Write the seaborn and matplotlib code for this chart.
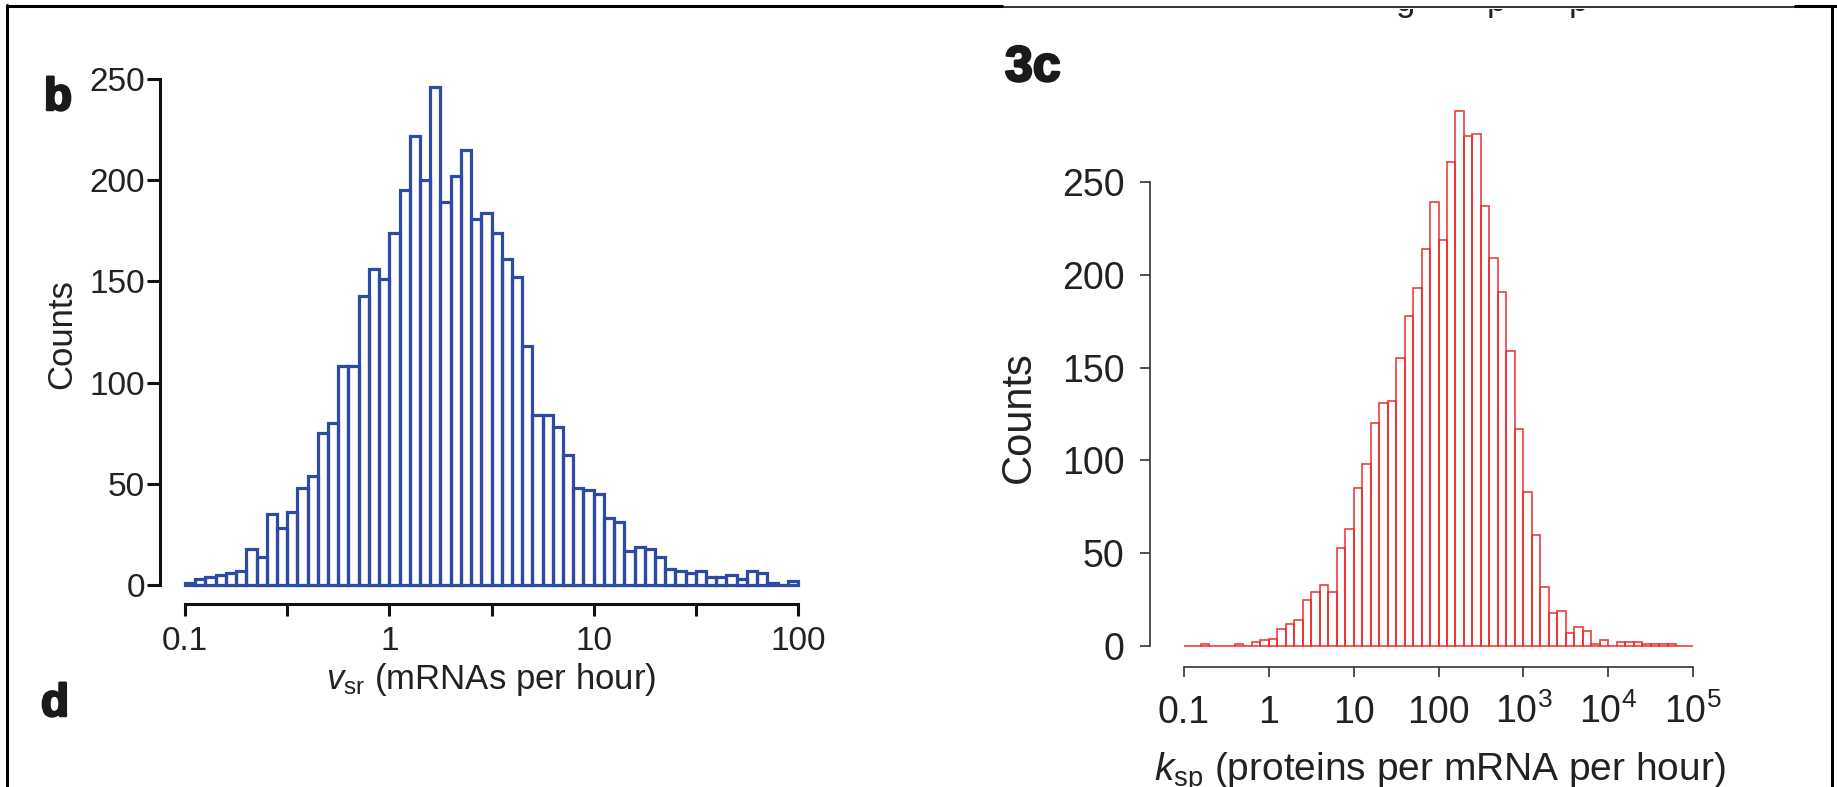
import numpy as np
import pandas as pd
import matplotlib
matplotlib.use('Agg')
import matplotlib.pyplot as plt
import seaborn as sns
from matplotlib.lines import Line2D
from matplotlib.ticker import NullLocator
from matplotlib.transforms import Bbox, TransformedBbox
import matplotlib.patheffects as pe

W, H = 1837, 787

# panel b: v_sr, 60 log bins between 0.1 and 100 (20 per decade)
vsr_counts = [1, 3, 4, 5, 6, 7, 18, 14, 35, 28, 36, 48, 54, 75, 80, 108, 108, 143, 156, 151,
              174, 195, 222, 200, 246, 189, 202, 215, 181, 184, 174, 161, 152, 118, 84, 84, 78, 64, 48, 47,
              45, 33, 31, 17, 19, 18, 14, 8, 7, 6, 7, 4, 4, 5, 3, 7, 6, 1, 0, 2]
vsr_logrange = (-1, 2)
vsr_ticklabels = ['0.1', '', '1', '', '10', '', '100']

# panel 3c: k_sp, 60 log bins between 0.1 and 1e5 (10 per decade)
ksp_counts = [0, 0, 1, 0, 0, 0, 1, 0, 2, 3, 4, 9, 12, 14, 25, 29, 33, 29, 53, 63,
              85, 98, 120, 131, 132, 155, 178, 193, 214, 239, 219, 261, 288, 275, 276, 237, 209, 191, 159, 117,
              83, 60, 32, 18, 19, 7, 10, 8, 1, 3, 0, 2, 2, 2, 1, 1, 1, 1, 0, 0]
ksp_logrange = (-1, 5)
ksp_ticklabels = ['0.1', '1', '10', '100', '$10^3$', '$10^4$', '$10^5$']

count_ticks = [0, 50, 100, 150, 200, 250]


def bin_centers(counts, logrange):
    edges = np.logspace(logrange[0], logrange[1], len(counts) + 1)
    return np.sqrt(edges[:-1] * edges[1:])


df_vsr = pd.DataFrame({'v': bin_centers(vsr_counts, vsr_logrange), 'n': vsr_counts})
df_ksp = pd.DataFrame({'k': bin_centers(ksp_counts, ksp_logrange), 'n': ksp_counts})

sns.set_style('ticks')
plt.rcParams['font.family'] = ['Liberation Sans', 'DejaVu Sans']
plt.rcParams['mathtext.fontset'] = 'custom'
plt.rcParams['mathtext.rm'] = 'Liberation Sans'
plt.rcParams['mathtext.it'] = 'Liberation Sans:italic'
plt.rcParams['mathtext.bf'] = 'Liberation Sans:bold'

fig = plt.figure(figsize=(W / 100, H / 100), dpi=100)
fig.patch.set_facecolor('white')

# ---- left panel (b) ----
ax1 = fig.add_axes([185 / W, 1 - 585 / H, 613 / W, 506 / H])
sns.histplot(data=df_vsr, x='v', weights='n', bins=len(vsr_counts), binrange=vsr_logrange,
             log_scale=True, fill=False, element='bars', color='#2d4ba5', linewidth=2.3, ax=ax1)
for p in ax1.patches:
    p.set_clip_on(False)
ax1.set_xlim(10 ** vsr_logrange[0], 10 ** vsr_logrange[1])
ax1.set_ylim(0, 250)
ax1.set_xticks(10 ** np.arange(vsr_logrange[0], vsr_logrange[1] + 0.01, 0.5))
ax1.set_xticklabels(vsr_ticklabels)
ax1.xaxis.set_minor_locator(NullLocator())
ax1.set_yticks(count_ticks)
ax1.set_yticklabels([str(t) for t in count_ticks])
for s in ['top', 'right']:
    ax1.spines[s].set_visible(False)
ax1.spines['left'].set_position(('outward', 18))
ax1.spines['bottom'].set_position(('outward', 14))
for s in ['left', 'bottom']:
    ax1.spines[s].set_linewidth(2.2)
    ax1.spines[s].set_color('#111111')
ax1.tick_params(axis='x', length=8.6, width=2.2, color='#111111', pad=24.5,
                labelsize=24, labelcolor='#222222')
ax1.tick_params(axis='y', length=9.4, width=2.2, color='#111111', pad=1.5,
                labelsize=24, labelcolor='#222222')
for lab in ax1.get_xticklabels():
    lab.set_va('baseline')
ax1.set_ylabel('')
ax1.set_xlabel(r'$v_{\mathrm{sr}}$ (mRNAs per hour)', fontsize=25, color='#222222', va='baseline')
ax1.xaxis.set_label_coords(0.5, (585 - 689) / 506)
fig.text(62 / W, 1 - 334 / H, 'Counts', rotation=90, ha='center', va='center',
         fontsize=25, color='#222222')

# ---- right panel (3c) ----
ax2 = fig.add_axes([1184 / W, 1 - 646 / H, 509 / W, 556.8 / H])
sns.histplot(data=df_ksp, x='k', weights='n', bins=len(ksp_counts), binrange=ksp_logrange,
             log_scale=True, fill=False, element='bars', color='#f02828', linewidth=1.2,
             alpha=0.9, ax=ax2)
for p in ax2.patches:
    p.set_clip_on(False)
ax2.set_xlim(10 ** ksp_logrange[0], 10 ** ksp_logrange[1])
ax2.set_ylim(0, 300)
ax2.set_xticks(10.0 ** np.arange(ksp_logrange[0], ksp_logrange[1] + 1))
ax2.set_xticklabels(ksp_ticklabels)
ax2.xaxis.set_minor_locator(NullLocator())
ax2.set_yticks(count_ticks)
ax2.set_yticklabels([str(t) for t in count_ticks])
for s in ['top', 'right']:
    ax2.spines[s].set_visible(False)
ax2.spines['left'].set_position(('outward', 24.5))
ax2.spines['bottom'].set_position(('outward', 15))
ax2.spines['left'].set_bounds(0, 250)
for s in ['left', 'bottom']:
    ax2.spines[s].set_linewidth(1.2)
    ax2.spines[s].set_color('#333333')
ax2.tick_params(axis='x', length=7.5, width=1.2, color='#333333', pad=33,
                labelsize=27, labelcolor='#222222')
ax2.tick_params(axis='y', length=7.2, width=1.2, color='#333333', pad=11,
                labelsize=27, labelcolor='#222222')
for lab in ax2.get_xticklabels():
    lab.set_va('baseline')
ax2.set_ylabel('')
ax2.set_xlabel(r'$k_{\mathrm{sp}}$ (proteins per mRNA per hour)', fontsize=28,
               color='#222222', va='baseline')
ax2.xaxis.set_label_coords((1440 - 1184) / 509, (646 - 781) / 556.8)
fig.text(1019 / W, 1 - 417 / H, 'Counts', rotation=90, ha='center', va='center',
         fontsize=30, color='#222222')

# ---- panel letters ----
heavy = [pe.withStroke(linewidth=1.8, foreground='#1a1a1a')]
for txt, x, y, fs in [('b', 44, 110, 33), ('d', 41, 716, 33), ('3c', 1005, 81, 36)]:
    fig.text(x / W, 1 - y / H, txt, ha='left', va='baseline', fontsize=fs,
             fontweight='bold', color='#1a1a1a', path_effects=heavy)

# descenders of the caption line cut off at the top edge
clip = TransformedBbox(Bbox([[0, 0], [1, 1 - 9 / H]]), fig.transFigure)
for ch, x in [('g', 1405), ('p', 1496), ('p', 1578)]:
    t = fig.text(x / W, 1 - 11 / H, ch, ha='center', va='baseline', fontsize=25, color='#222222')
    t.set_clip_box(clip)
    t.set_clip_on(True)

# page frame
frame = [((7, 1002), (6, 6), 2.2), ((1002, 1795), (7, 7), 1.1), ((1795, 1837), (6, 6), 2.2),
         ((7, 7), (5, 787), 2.2), ((1832, 1832), (6, 787), 2.2)]
for xs, ys, lw in frame:
    fig.add_artist(Line2D([xs[0] / W, xs[1] / W], [1 - ys[0] / H, 1 - ys[1] / H],
                          transform=fig.transFigure, color='black', linewidth=lw))

fig.savefig('out.png', dpi=100, facecolor='white')
